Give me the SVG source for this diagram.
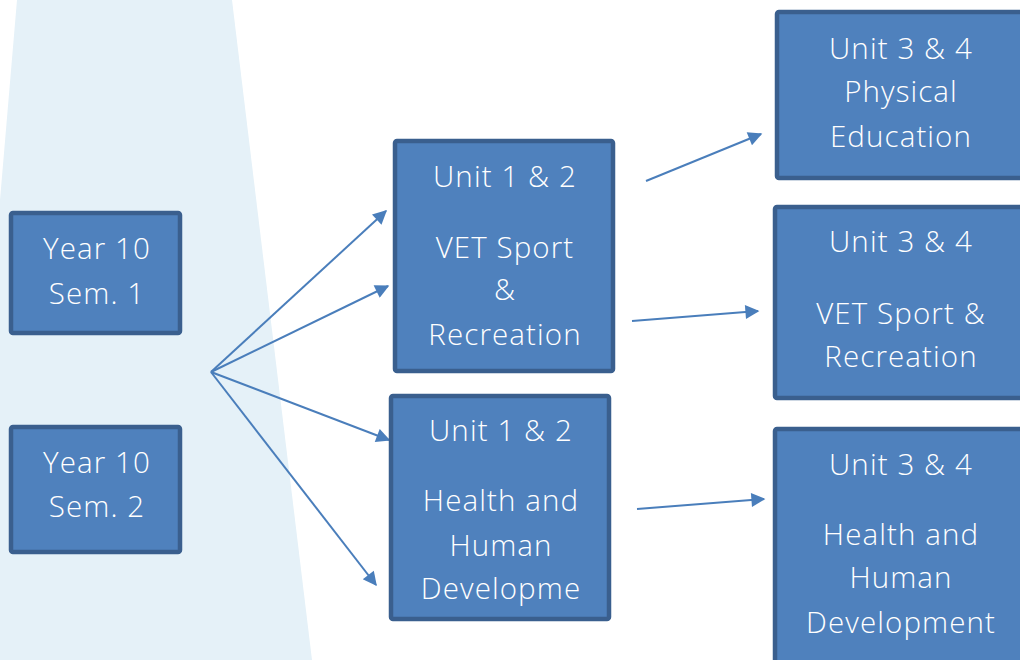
<svg xmlns="http://www.w3.org/2000/svg" width="1020" height="660" viewBox="0 0 1020 660">
<defs>
<style>
.box{fill:#4f81bd;stroke:#3a5f8e;stroke-width:4.5}
.t{fill:#ffffff;font-family:"Open Sans",Lato,sans-serif;font-weight:300;font-size:29.5px;letter-spacing:1.1px;text-anchor:middle}
.c{stroke:#4a7ebb;stroke-width:2;fill:none;marker-end:url(#ah)}
</style>
<marker id="ah" viewBox="0 0 10 10" refX="9" refY="5" markerWidth="8" markerHeight="7" markerUnits="strokeWidth" orient="auto">
<path d="M0,0 L10,5 L0,10 z" fill="#4a7ebb"/>
</marker>
</defs>
<rect width="1020" height="660" fill="#ffffff"/>
<polygon points="17,0 232,0 312,660 0,660 0,200" fill="#e5f1f8"/>
<g id="connectors">
<line class="c" x1="211" y1="372" x2="386" y2="211"/>
<line class="c" x1="211" y1="372" x2="388" y2="286"/>
<line class="c" x1="211" y1="372" x2="389" y2="440"/>
<line class="c" x1="211" y1="372" x2="376" y2="585"/>
<line class="c" x1="646" y1="181" x2="761" y2="134"/>
<line class="c" x1="632" y1="321" x2="758" y2="311"/>
<line class="c" x1="637" y1="509" x2="764" y2="499"/>
</g>
<g id="y10s1">
<rect class="box" x="11" y="213" width="169" height="120" rx="2"/>
<text class="t" x="97" y="259">Year 10</text>
<text class="t" x="97" y="304">Sem. 1</text>
</g>
<g id="y10s2">
<rect class="box" x="11" y="427" width="169" height="125" rx="2"/>
<text class="t" x="97" y="473">Year 10</text>
<text class="t" x="97" y="517">Sem. 2</text>
</g>
<g id="u12vet">
<rect class="box" x="395" y="141" width="218" height="230" rx="2"/>
<text class="t" x="505" y="187">Unit 1 &amp; 2</text>
<text class="t" x="505" y="258">VET Sport</text>
<text class="t" x="505" y="300">&amp;</text>
<text class="t" x="505" y="345">Recreation</text>
</g>
<g id="u12hhd">
<rect class="box" x="391" y="396" width="218" height="223" rx="2"/>
<text class="t" x="501" y="441">Unit 1 &amp; 2</text>
<text class="t" x="501" y="511">Health and</text>
<text class="t" x="501" y="556">Human</text>
<text class="t" x="501" y="599">Developme</text>
</g>
<g id="u34pe">
<rect class="box" x="777" y="12" width="260" height="166" rx="2"/>
<text class="t" x="901" y="59">Unit 3 &amp; 4</text>
<text class="t" x="901" y="102">Physical</text>
<text class="t" x="901" y="147">Education</text>
</g>
<g id="u34vet">
<rect class="box" x="775" y="207" width="260" height="191" rx="2"/>
<text class="t" x="901" y="252">Unit 3 &amp; 4</text>
<text class="t" x="901" y="324">VET Sport &amp;</text>
<text class="t" x="901" y="367">Recreation</text>
</g>
<g id="u34hhd">
<rect class="box" x="775" y="429" width="260" height="250" rx="2"/>
<text class="t" x="901" y="475">Unit 3 &amp; 4</text>
<text class="t" x="901" y="545">Health and</text>
<text class="t" x="901" y="588">Human</text>
<text class="t" x="901" y="633">Development</text>
</g>
</svg>
